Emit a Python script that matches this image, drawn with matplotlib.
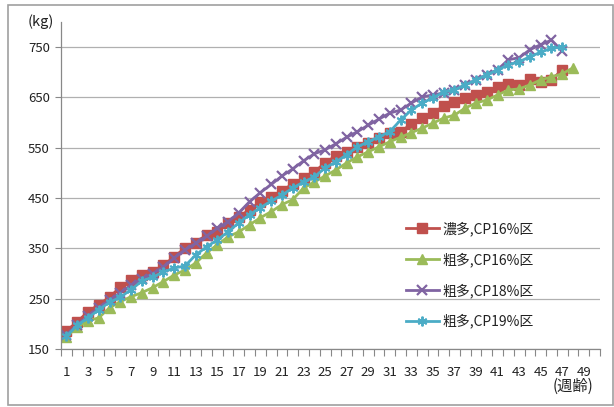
import matplotlib
matplotlib.use("Agg")
import matplotlib.pyplot as plt
from matplotlib.patches import Rectangle

plt.rcParams['font.family'] = ['Noto Sans CJK JP', 'DejaVu Sans']

weeks_max = 50
series_names = ["濃多,CP16%区", "粗多,CP16%区", "粗多,CP18%区", "粗多,CP19%区"]

red = [186, 204, 224, 238, 253, 273, 287, 297, 303, 317,
       333, 351, 361, 377, 383, 401, 413, 427, 443, 453,
       465, 478, 490, 502, 520, 534, 542, 552, 560, 570,
       580, 582, 597, 609, 619, 633, 641, 649, 655, 661,
       671, 677, 675, 687, 681, 685, 705]
green = [174, 194, 206, 212, 232, 244, 254, 262, 272, 284,
         297, 307, 321, 341, 357, 373, 383, 397, 411, 423,
         437, 447, 470, 482, 494, 506, 520, 532, 542, 552,
         562, 571, 580, 589, 599, 609, 615, 629, 639, 645,
         655, 665, 667, 675, 685, 691, 697, 709]
purple = [178, 198, 215, 232, 247, 262, 277, 290, 300, 313,
          331, 347, 360, 374, 390, 403, 421, 443, 461, 477,
          494, 508, 524, 538, 546, 558, 571, 582, 595, 607,
          619, 625, 639, 651, 655, 659, 665, 675, 685, 695,
          705, 725, 729, 745, 755, 764, 742]
cyan = [175, 197, 212, 228, 243, 253, 268, 285, 293, 303,
        311, 315, 337, 353, 367, 383, 401, 417, 431, 444,
        456, 470, 482, 492, 510, 522, 536, 552, 562, 572,
        582, 605, 625, 639, 649, 661, 665, 675, 685, 695,
        705, 715, 721, 731, 740, 748, 750]

colors = ["#C0504D", "#9BBB59", "#8064A2", "#4BACC6"]
markers = ["s", "^", "x", (6, 2, 0)]
msizes = [6.5, 7, 7, 7]
mews = [1, 1, 1.6, 1.4]

fig = plt.figure(figsize=(6.14, 4.07), dpi=100)
fig.patch.set_facecolor("white")
# outer chart frame
fig.patches.append(Rectangle((8 / 614, 1 - 405 / 407), 0.999 - 8 / 614, (405 - 5) / 407,
                             transform=fig.transFigure, fill=False,
                             edgecolor="#a0a0a0", linewidth=1.2, zorder=0))

ax = fig.add_axes([61 / 614, 1 - 349 / 407, (600 - 61) / 614, (349 - 22) / 407])

for vals, c, m, ms, mew, name in zip([red, green, purple, cyan], colors, markers, msizes, mews, series_names):
    x = list(range(1, len(vals) + 1))
    ax.plot(x, vals, color=c, linewidth=2.0, marker=m, markersize=ms,
            markeredgewidth=mew, markeredgecolor=c, markerfacecolor=c, label=name)

ax.set_xlim(0.5, weeks_max + 0.5)
ax.set_ylim(150, 800)
ax.set_yticks(range(150, 751, 100))
ax.grid(axis="y", color="#b0b0b0", linewidth=0.9)
ax.set_axisbelow(True)

ax.set_xticks([i + 0.5 for i in range(0, weeks_max + 1)], minor=False)
ax.set_xticklabels([])
ax.set_xticks(list(range(1, weeks_max, 2)), minor=True)
ax.set_xticklabels([str(i) for i in range(1, weeks_max, 2)], minor=True)
ax.tick_params(axis="x", which="major", length=5, width=0.8, color="#888888", direction="out")
ax.tick_params(axis="x", which="minor", length=0, pad=12, labelsize=9.5, labelcolor="#222222")
ax.tick_params(axis="y", length=4, width=0.8, color="#888888", labelsize=9.5, labelcolor="#222222", pad=4)

for s in ["top", "right"]:
    ax.spines[s].set_visible(False)
ax.spines["left"].set_color("#888888")
ax.spines["bottom"].set_color("#888888")
ax.spines["left"].set_linewidth(0.9)
ax.spines["bottom"].set_linewidth(0.9)

fig.text(28 / 614, 1 - 22 / 407, "(kg)", fontsize=10.5, color="#222222", ha="left", va="center")
fig.text(593 / 614, 1 - 386 / 407, "(週齢)", fontsize=11, color="#222222", ha="right", va="center")

leg = ax.legend(loc="upper left", bbox_to_anchor=((400 - 61) / 539, (349 - 216) / 327), frameon=False,
                fontsize=10, handlelength=2.4, labelspacing=1.15, handletextpad=0.25,
                borderaxespad=0)
for t in leg.get_texts():
    t.set_color("#222222")

fig.savefig("out.png", dpi=100)
